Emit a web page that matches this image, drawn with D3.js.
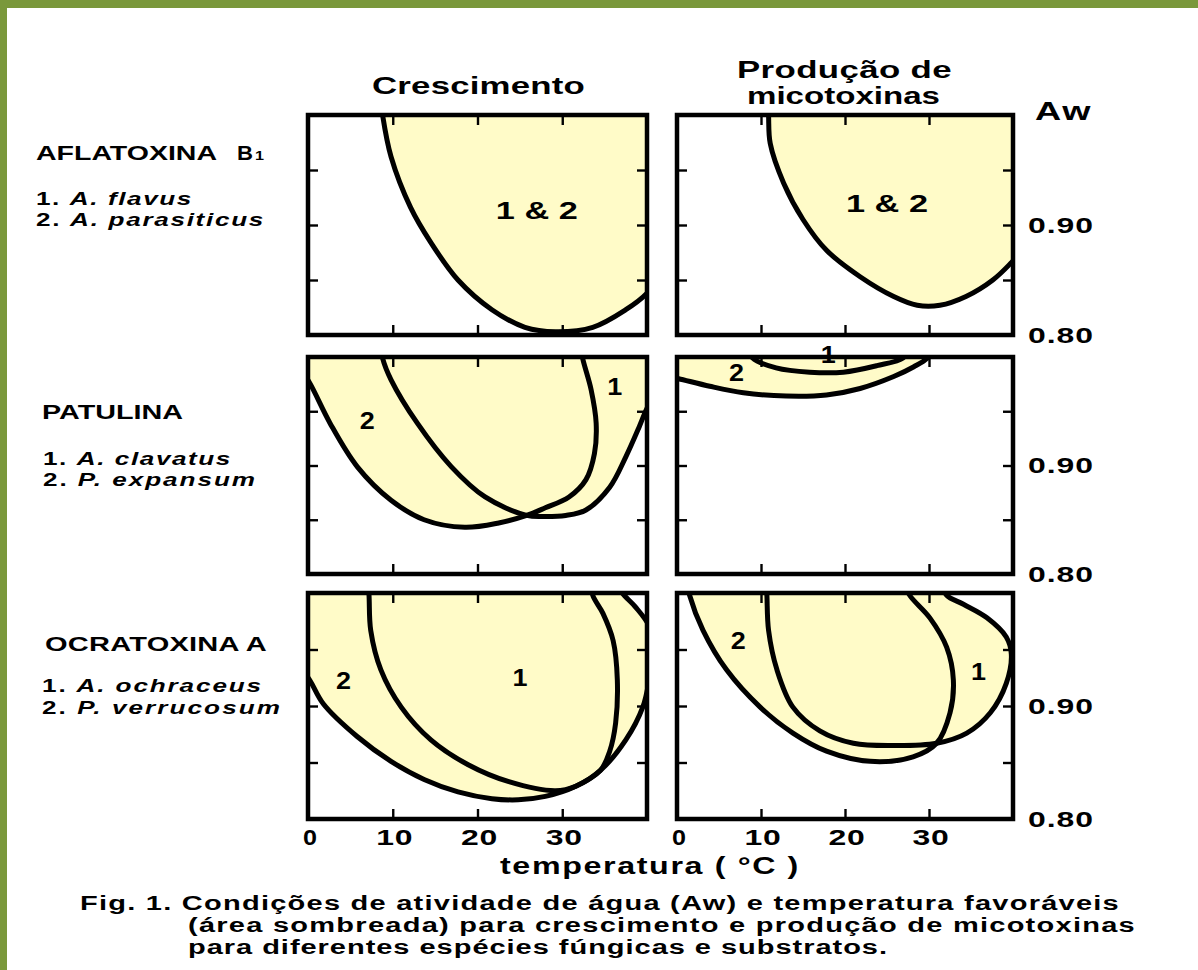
<!DOCTYPE html>
<html>
<head>
<meta charset="utf-8">
<script src="https://cdn.jsdelivr.net/npm/d3@7"></script>
<style>
  html, body { margin: 0; padding: 0; background: #fff; }
  svg { display: block; }
  text { font-family: "Liberation Sans", Arial, Helvetica, sans-serif; font-weight: bold; fill: #000; }
</style>
</head>
<body>
<svg id="chart" width="1198" height="970"></svg>
<script>
// Axis values
const temperatureTicks = [10, 20, 30];
const temperatureLabels = [0, 10, 20, 30];
const awTicks = [0.85, 0.90, 0.95];
const awLabels = [0.90, 0.80];

// Favourable envelopes as [temperature °C, Aw] boundary points.
// Each boundary runs from where it enters the top of the panel to where it leaves it.
// Aflatoxin B1 – A. flavus & A. parasiticus
const aflaGrowth = [[8.5,1.02],[8.8,1.0],[9.8,0.962],[12.1,0.916],[14.5,0.884],[17.7,0.850],[21.7,0.823],[25.6,0.807],[29.2,0.803],[33.6,0.807],[37.5,0.823],[40,0.838],[42,0.86]];
const aflaProduction = [[10.8,1.02],[10.9,1.0],[11.1,0.974],[12.7,0.938],[15.0,0.905],[17.8,0.877],[21.8,0.853],[25.8,0.835],[28.6,0.827],[31.3,0.827],[34.4,0.835],[37.6,0.850],[39.7,0.865],[42,0.885]];

// Patulin – 1. A. clavatus, 2. P. expansum
const clavatusGrowth = [[8.6,1.01],[8.8,0.999],[9.8,0.979],[12.9,0.939],[16.9,0.899],[20.9,0.871],[25.8,0.854],[28.0,0.853],[30.4,0.854],[32.8,0.859],[35.6,0.880],[37.5,0.908],[39.1,0.936],[39.9,0.951],[41.5,0.975]];
const expansumGrowth = [[-1,0.99],[0.2,0.976],[2.6,0.939],[5.8,0.899],[9.8,0.868],[13.7,0.850],[18.5,0.843],[22.5,0.847],[25.8,0.854],[28.0,0.861],[30.8,0.871],[32.8,0.887],[33.8,0.911],[34.0,0.939],[33.4,0.970],[32.4,0.999],[32.2,1.01]];
const clavatusProduction = [[8.6,1.006],[9.0,0.999],[11.8,0.990],[15.8,0.986],[19.8,0.986],[23.8,0.992],[26.9,0.999],[27.4,1.006]];
const expansumProduction = [[-1,0.982],[0.2,0.980],[3.9,0.973],[7.9,0.967],[13.0,0.964],[17.8,0.965],[21.8,0.971],[25.8,0.982],[28.2,0.991],[29.8,0.999],[30.3,1.006]];

// Ochratoxin A – 1. A. ochraceus, 2. P. verrucosum
const ochraceusGrowth = [[7.0,1.02],[7.2,0.998],[7.4,0.967],[8.6,0.932],[11.0,0.899],[14.5,0.870],[18.9,0.848],[23.7,0.833],[29.2,0.825],[31.6,0.829],[34.5,0.843],[37.5,0.870],[39.5,0.899],[40.3,0.925],[40.7,0.95],[40.3,0.970],[38.6,0.988],[37.1,1.0],[36.5,1.01]];
const verrucosumGrowth = [[-1,0.935],[0.2,0.923],[1.8,0.902],[5.8,0.873],[9.8,0.851],[13.7,0.835],[17.7,0.824],[21.7,0.818],[24.8,0.817],[28.0,0.820],[31.6,0.829],[34.5,0.843],[35.6,0.860],[36.3,0.885],[36.5,0.923],[36.0,0.958],[34.8,0.982],[33.6,0.998],[33.4,1.01]];
const ochraceusProduction = [[10.6,1.01],[10.7,0.998],[10.9,0.967],[11.9,0.932],[13.8,0.899],[17.0,0.878],[21.0,0.867],[25.8,0.865],[30.9,0.867],[34.5,0.876],[37.3,0.894],[39.2,0.920],[39.8,0.946],[39.2,0.961],[36.9,0.978],[34.1,0.990],[32.1,0.998],[31.4,1.01]];
const verrucosumProduction = [[1.2,1.01],[1.5,0.998],[3.1,0.967],[5.9,0.932],[9.9,0.899],[13.8,0.876],[17.8,0.860],[23.0,0.851],[28.1,0.855],[30.9,0.867],[32.5,0.894],[32.9,0.923],[32.1,0.952],[30.1,0.978],[27.7,0.998],[27.0,1.01]];

// In-panel labels: [text, temperature, Aw]
const aflaGrowthLabels = [["1 & 2", 27.0, 0.913]];
const aflaProductionLabels = [["1 & 2", 25.0, 0.920]];
const patulinGrowthLabels = [["2", 7.0, 0.942], ["1", 36.2, 0.973]];
const patulinProductionLabels = [["1", 18.0, 1.002], ["2", 7.1, 0.986]];
const ochraGrowthLabels = [["2", 4.2, 0.923], ["1", 25.0, 0.925]];
const ochraProductionLabels = [["2", 7.3, 0.958], ["1", 35.9, 0.931]];

const columnTitles = ["Crescimento", ["Produção de", "micotoxinas"]];
const toxinNames = ["AFLATOXINA", "PATULINA", "OCRATOXINA A"];
const speciesLists = [
  [["1. ", "A. flavus"], ["2. ", "A. parasiticus"]],
  [["1. ", "A. clavatus"], ["2. ", "P. expansum"]],
  [["1. ", "A. ochraceus"], ["2. ", "P. verrucosum"]]
];
const xTitle = "temperatura ( °C )";
const yTitle = "Aw";
const captionLines = [
  "Fig. 1. Condições de atividade de água (Aw) e temperatura favoráveis",
  "(área sombreada) para crescimento e produção de micotoxinas",
  "para diferentes espécies fúngicas e substratos."
];

// ---------------------------------------------------------------
const W = 1198, H = 970;
const FILL = "#fffbc8";
const svg = d3.select("#chart");
svg.append("rect").attr("width", W).attr("height", H).attr("fill", "#fff");
svg.append("rect").attr("x", 0).attr("y", 0).attr("width", W).attr("height", 8).attr("fill", "#7a983b");
svg.append("rect").attr("x", 0).attr("y", 0).attr("width", 7).attr("height", H).attr("fill", "#7a983b");

// Stretch text horizontally to a given width: wider glyphs first, then letter spacing
function fit(sel, width, stretch = 1.45) {
  sel.each(function () {
    const n = this.getNumberOfChars();
    const w0 = this.getComputedTextLength();
    const ls = Math.max(0, (width / stretch - w0) / Math.max(1, n));
    d3.select(this).style("letter-spacing", ls + "px")
      .attr("textLength", width).attr("lengthAdjust", "spacingAndGlyphs");
  });
  return sel;
}

const cols = [[308, 647], [677, 1013]];
const rows = [[115, 335], [357, 574], [593, 819]];

const panels = [
  { r: 0, c: 0, env: [aflaGrowth], labels: aflaGrowthLabels },
  { r: 0, c: 1, env: [aflaProduction], labels: aflaProductionLabels },
  { r: 1, c: 0, env: [expansumGrowth, clavatusGrowth], labels: patulinGrowthLabels },
  { r: 1, c: 1, env: [expansumProduction, clavatusProduction], labels: patulinProductionLabels },
  { r: 2, c: 0, env: [verrucosumGrowth, ochraceusGrowth], labels: ochraGrowthLabels },
  { r: 2, c: 1, env: [verrucosumProduction, ochraceusProduction], labels: ochraProductionLabels }
];

const xScales = cols.map(c => d3.scaleLinear().domain([0, 40]).range(c));
const yScales = rows.map(r => d3.scaleLinear().domain([0.80, 1.00]).range([r[1], r[0]]));

panels.forEach((p, i) => {
  const x = xScales[p.c], y = yScales[p.r];
  const [x0, x1] = x.range();
  const [y1, y0] = y.range();
  const id = "clip" + i;
  svg.append("clipPath").attr("id", id)
    .append("rect").attr("x", x0).attr("y", y0).attr("width", x1 - x0).attr("height", y1 - y0);
  const g = svg.append("g");
  const inner = g.append("g").attr("clip-path", `url(#${id})`);

  const line = d3.line().x(d => x(d[0])).y(d => y(d[1])).curve(d3.curveCatmullRom.alpha(0.5));

  // shaded areas (each envelope is open toward high Aw)
  p.env.forEach(env => {
    const a = env[0], b = env[env.length - 1];
    const top = 1.08;
    inner.append("path")
      .attr("d", line(env) + `L${x(b[0])},${y(top)}L${x(a[0])},${y(top)}Z`)
      .attr("fill", FILL).attr("stroke", "none");
  });

  // inward ticks on all four sides
  const tickStyle = s => s.call(a => a.select(".domain").remove())
    .call(a => a.selectAll("line").attr("stroke", "#000").attr("stroke-width", 2.4));
  inner.append("g").attr("transform", `translate(0,${y1})`)
    .call(d3.axisBottom(x).tickValues(temperatureTicks).tickSize(-10).tickFormat("")).call(tickStyle);
  inner.append("g").attr("transform", `translate(0,${y0})`)
    .call(d3.axisTop(x).tickValues(temperatureTicks).tickSize(-10).tickFormat("")).call(tickStyle);
  inner.append("g").attr("transform", `translate(${x0},0)`)
    .call(d3.axisLeft(y).tickValues(awTicks).tickSize(-10).tickFormat("")).call(tickStyle);
  inner.append("g").attr("transform", `translate(${x1},0)`)
    .call(d3.axisRight(y).tickValues(awTicks).tickSize(-10).tickFormat("")).call(tickStyle);

  // envelope boundaries
  p.env.forEach(env => {
    inner.append("path").attr("d", line(env))
      .attr("fill", "none").attr("stroke", "#000").attr("stroke-width", 5)
      .attr("stroke-linejoin", "round").attr("stroke-linecap", "round");
  });

  // frame
  g.append("rect").attr("x", x0).attr("y", y0).attr("width", x1 - x0).attr("height", y1 - y0)
    .attr("fill", "none").attr("stroke", "#000").attr("stroke-width", 4.5);

  // region labels
  p.labels.forEach(([t, tx, aw]) => {
    const el = g.append("text").attr("x", x(tx)).attr("y", y(aw)).attr("dy", "0.36em")
      .attr("text-anchor", "middle").attr("font-size", 24).text(t);
    fit(el, t.length > 1 ? 82 : 15);
  });
});

// Temperature tick labels under the bottom row
xScales.forEach(x => {
  temperatureLabels.forEach(v => {
    const el = svg.append("text").attr("x", x(v) + 2).attr("y", 845)
      .attr("text-anchor", "middle").attr("font-size", 22).text(v);
    fit(el, v === 0 ? 14 : 37);
  });
});

// Aw labels at the right of each row
yScales.forEach(y => {
  awLabels.forEach(v => {
    const el = svg.append("text").attr("x", 1028).attr("y", y(v)).attr("dy", "0.36em")
      .attr("font-size", 22).text(d3.format(".2f")(v));
    fit(el, 66);
  });
});
fit(svg.append("text").attr("x", 1035).attr("y", 120).attr("font-size", 25).text(yTitle), 57);

// Column titles
fit(svg.append("text").attr("x", 372).attr("y", 94).attr("font-size", 24).text(columnTitles[0]), 213);
fit(svg.append("text").attr("x", 737).attr("y", 78).attr("font-size", 24).text(columnTitles[1][0]), 215);
fit(svg.append("text").attr("x", 747).attr("y", 104).attr("font-size", 24).text(columnTitles[1][1]), 193);

// Toxin names and species, left of each row
const toxinLayout = [
  { x: 36, y: 160, w: 181, sx: 36, sy: [205, 226], sw: [157, 229] },
  { x: 42, y: 419, w: 141, sx: 43, sy: [465, 486], sw: [189, 214] },
  { x: 45, y: 651, w: 222, sx: 42, sy: [692, 714], sw: [221, 240] }
];
toxinNames.forEach((name, i) => {
  const L = toxinLayout[i];
  fit(svg.append("text").attr("x", L.x).attr("y", L.y).attr("font-size", 20).text(name), L.w);
  speciesLists[i].forEach((sp, j) => {
    const el = svg.append("text").attr("x", L.sx).attr("y", L.sy[j]).attr("font-size", 18);
    el.append("tspan").text(sp[0]);
    el.append("tspan").attr("font-style", "italic").text(sp[1]);
    fit(el, L.sw[j]);
  });
});
// B1 suffix for aflatoxin
fit(svg.append("text").attr("x", 237).attr("y", 160).attr("font-size", 20).text("B"), 16);
fit(svg.append("text").attr("x", 255).attr("y", 160).attr("font-size", 13).text("1"), 9);

// Axis title
fit(svg.append("text").attr("x", 500).attr("y", 874).attr("font-size", 23).text(xTitle), 300, 1.4);

// Caption
const capX = [80, 188, 188];
const capY = [910, 932, 954];
const capW = [1040, 948, 700];
captionLines.forEach((s, i) => {
  fit(svg.append("text").attr("x", capX[i]).attr("y", capY[i]).attr("font-size", 20).text(s), capW[i], 1.45);
});
</script>
</body>
</html>
